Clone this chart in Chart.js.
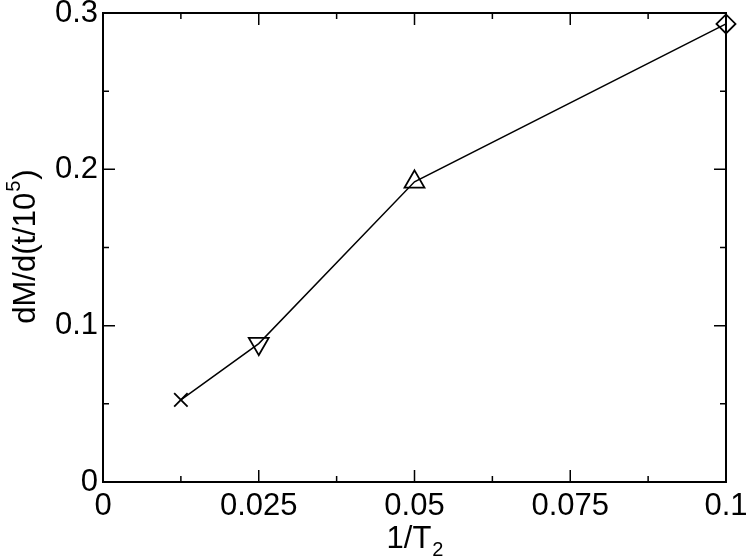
<!DOCTYPE html>
<html>
<head>
<meta charset="utf-8">
<script src="https://cdn.jsdelivr.net/npm/chart.js@4/dist/chart.umd.min.js"></script>
<style>
  html, body { margin: 0; padding: 0; background: #fff; }
  #wrap { width: 747px; height: 559px; }
</style>
</head>
<body>
<div id="wrap"><canvas id="grafico"></canvas></div>
<script>
// valores
const xValues = [0.0125, 0.025, 0.05, 0.1];
const yValues = [0.0525, 0.0885, 0.192, 0.293];
const markers = ['crossRot', 'triangle', 'triangle', 'rectRot'];
const markerRotation = [0, 180, 0, 0];
const xTickLabels = ['0', '0.025', '0.05', '0.075', '0.1'];
const yTickLabels = ['0', '0.1', '0.2', '0.3'];

const FONT = '"Liberation Sans", Arial, sans-serif';
const FSIZE = 31;

// moldura e ticks para dentro (estilo xmgrace)
const frameTicks = {
    id: 'frameTicks',
    afterDraw(chart) {
        const { ctx, chartArea: a } = chart;
        const xs = chart.scales.x, ys = chart.scales.y;
        ctx.save();
        ctx.strokeStyle = '#000';
        ctx.lineWidth = 2;
        ctx.strokeRect(a.left, a.top, a.right - a.left, a.bottom - a.top);

        const major = 12, minor = 6;
        const xt = xs.ticks.map(t => t.value);
        const yt = ys.ticks.map(t => t.value);
        ctx.lineWidth = 1.5;
        ctx.beginPath();
        xt.forEach((v, i) => {
            const px = xs.getPixelForValue(v);
            ctx.moveTo(px, a.bottom); ctx.lineTo(px, a.bottom - major);
            ctx.moveTo(px, a.top); ctx.lineTo(px, a.top + major);
            if (i < xt.length - 1) {
                const pm = xs.getPixelForValue((v + xt[i + 1]) / 2);
                ctx.moveTo(pm, a.bottom); ctx.lineTo(pm, a.bottom - minor);
                ctx.moveTo(pm, a.top); ctx.lineTo(pm, a.top + minor);
            }
        });
        yt.forEach((v, i) => {
            const py = ys.getPixelForValue(v);
            ctx.moveTo(a.left, py); ctx.lineTo(a.left + major, py);
            ctx.moveTo(a.right, py); ctx.lineTo(a.right - major, py);
            if (i < yt.length - 1) {
                const pm = ys.getPixelForValue((v + yt[i + 1]) / 2);
                ctx.moveTo(a.left, pm); ctx.lineTo(a.left + minor, pm);
                ctx.moveTo(a.right, pm); ctx.lineTo(a.right - minor, pm);
            }
        });
        ctx.stroke();

        // títulos dos eixos, com sub/sobrescrito
        ctx.fillStyle = '#000';
        ctx.textBaseline = 'alphabetic';
        const big = FSIZE + 'px ' + FONT, small = '20px ' + FONT;

        ctx.font = big;
        const w1 = ctx.measureText('1/T').width;
        ctx.font = small;
        const w2 = ctx.measureText('2').width;
        let x0 = (a.left + a.right) / 2 - (w1 + w2) / 2;
        ctx.textAlign = 'left';
        ctx.font = big;
        ctx.fillText('1/T', x0, 548);
        ctx.font = small;
        ctx.fillText('2', x0 + w1 + 1, 556);

        ctx.translate(35, (a.top + a.bottom) / 2);
        ctx.rotate(-Math.PI / 2);
        ctx.font = big;
        const s1 = ctx.measureText('dM/d(t/10').width;
        const s3 = ctx.measureText(')').width;
        ctx.font = small;
        const s2 = ctx.measureText('5').width;
        let t0 = -(s1 + s2 + s3) / 2;
        ctx.font = big;
        ctx.fillText('dM/d(t/10', t0, 0);
        ctx.font = small;
        ctx.fillText('5', t0 + s1 + 1, -15);
        ctx.font = big;
        ctx.fillText(')', t0 + s1 + s2 + 2, 0);
        ctx.restore();
    }
};

const ctx = document.getElementById('grafico').getContext('2d');

new Chart(ctx, {
    type: 'scatter',
    data: {
        datasets: [{
            data: xValues.map((x, i) => ({ x: x, y: yValues[i] })),
            showLine: true,
            clip: false,
            borderColor: '#000',
            borderWidth: 1.5,
            backgroundColor: 'rgba(0,0,0,0)',
            pointStyle: markers,
            rotation: markerRotation,
            pointRadius: [9.5, 11.5, 11.5, 9.5],
            pointBorderColor: '#000',
            pointBorderWidth: 1.8,
            pointBackgroundColor: 'rgba(0,0,0,0)'
        }]
    },
    options: {
        responsive: true,
        maintainAspectRatio: false,
        animation: false,
        layout: { padding: { top: 13, right: 21, left: 0, bottom: 0 } },
        plugins: { legend: { display: false }, tooltip: { enabled: false } },
        scales: {
            x: {
                type: 'linear',
                min: 0, max: 0.1,
                grid: { display: false, drawTicks: false },
                border: { display: false },
                ticks: {
                    stepSize: 0.025,
                    padding: 6,
                    color: '#000',
                    maxRotation: 0,
                    font: { family: FONT, size: FSIZE },
                    callback: (v, i) => xTickLabels[i]
                },
                afterFit(scale) {
                    scale.height = 77;
                    scale.paddingLeft = 0;
                    scale.paddingRight = 0;
                }
            },
            y: {
                type: 'linear',
                min: 0, max: 0.3,
                grid: { display: false, drawTicks: false },
                border: { display: false },
                ticks: {
                    stepSize: 0.1,
                    padding: 5,
                    color: '#000',
                    font: { family: FONT, size: FSIZE },
                    callback: (v, i) => yTickLabels[i]
                },
                afterFit(scale) {
                    scale.width = 103;
                    scale.paddingTop = 0;
                    scale.paddingBottom = 0;
                }
            }
        }
    },
    plugins: [frameTicks]
});
</script>
</body>
</html>
